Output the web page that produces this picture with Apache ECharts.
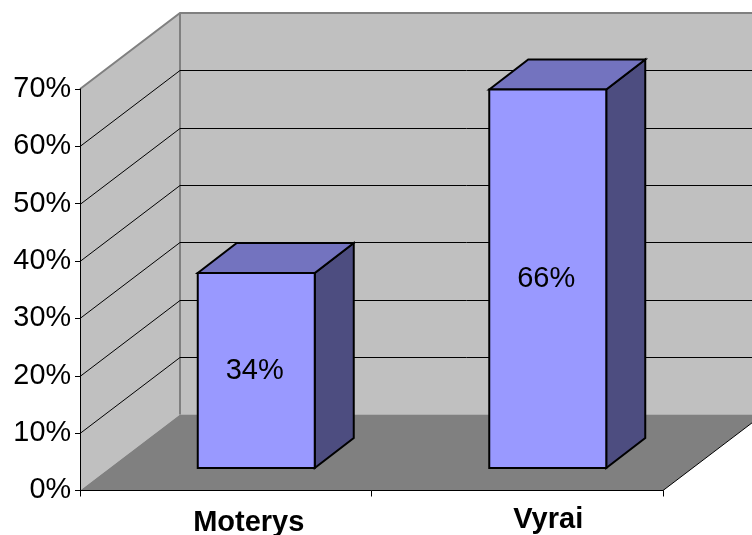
<!DOCTYPE html>
<html>
<head>
<meta charset="utf-8">
<style>
  html, body { margin: 0; padding: 0; background: #fff; }
  #main { width: 752px; height: 535px; }
</style>
<script src="https://cdn.jsdelivr.net/npm/echarts@6/dist/echarts.min.js"></script>
</head>
<body>
<div id="main"></div>
<script>
var categories = ["Moterys", "Vyrai"];
var shareValues = [34, 66];
var gridTicks = [10, 20, 30, 40, 50, 60];
var yMin = 0;
var yMax = 70;
var yStep = 10;

// oblique projection of the box, in pixels
var depthX = 100;
var depthY = -76;
var barOffsetX = 30.5;
var barOffsetY = -22.5;
var barWidth = 117;
var barDepthX = 39;
var barDepthY = -30;

var fontName = '"Liberation Sans", Arial, sans-serif';

function poly(points, fill, stroke, lineWidth) {
  return {
    type: "polygon",
    shape: { points: points },
    style: { fill: fill, stroke: stroke || null, lineWidth: lineWidth || 0, lineJoin: "miter" }
  };
}

function line(points, color, lineWidth) {
  return {
    type: "polyline",
    shape: { points: points },
    style: { fill: null, stroke: color, lineWidth: lineWidth, lineJoin: "miter" }
  };
}

function renderWalls(params, api) {
  var box = params.coordSys;
  var x0 = box.x;
  var x1 = box.x + box.width;
  var bottom = api.coord([0, yMin])[1];
  var top = api.coord([0, yMax])[1];
  var bx0 = x0 + depthX;
  var bx1 = x1 + depthX;
  return {
    type: "group",
    children: [
      poly([[x0, top], [bx0, top + depthY], [bx0, bottom + depthY], [x0, bottom]], "#c0c0c0"),
      poly([[bx0, top + depthY], [bx1, top + depthY], [bx1, bottom + depthY], [bx0, bottom + depthY]], "#c0c0c0"),
      poly([[x0, bottom], [x1, bottom], [bx1, bottom + depthY], [bx0, bottom + depthY]], "#808080"),
      line([[x0, top], [bx0, top + depthY], [bx1, top + depthY]], "#808080", 2),
      line([[bx0, top + depthY], [bx0, bottom + depthY]], "#808080", 2),
      line([[x1, bottom], [bx1, bottom + depthY]], "#000", 1)
    ]
  };
}

function renderGridLine(params, api) {
  var box = params.coordSys;
  var y = Math.round(api.coord([0, api.value(1)])[1]) + 0.5;
  return line([
    [box.x, y],
    [box.x + depthX, y + depthY],
    [box.x + box.width + depthX, y + depthY]
  ], "#000", 1);
}

function renderBar(params, api) {
  var center = api.coord([api.value(0), api.value(1)])[0] + barOffsetX;
  var left = center - barWidth / 2;
  var right = center + barWidth / 2;
  var top = api.coord([0, api.value(1)])[1] + barOffsetY;
  var bottom = api.coord([0, yMin])[1] + barOffsetY;
  var dx = barDepthX;
  var dy = barDepthY;
  return {
    type: "group",
    children: [
      poly([[right, top], [right + dx, top + dy], [right + dx, bottom + dy], [right, bottom]], "#4d4d80", "#000", 2),
      poly([[left, top], [left + dx, top + dy], [right + dx, top + dy], [right, top]], "#7373bf", "#000", 2),
      poly([[left, top], [right, top], [right, bottom], [left, bottom]], "#9999ff", "#000", 2),
      {
        type: "text",
        style: {
          x: center - 1.5,
          y: (top + bottom) / 2 + 0.5,
          text: api.value(1) + "%",
          fill: "#000",
          font: "29px " + fontName,
          align: "center",
          verticalAlign: "middle"
        }
      }
    ]
  };
}

var chart = echarts.init(document.getElementById("main"));
chart.setOption({
  animation: false,
  backgroundColor: "#fff",
  grid: { left: 80, right: 89, top: 89, bottom: 44.5, outerBoundsMode: "none" },
  xAxis: {
    type: "category",
    data: categories,
    z: 5,
    axisLine: { lineStyle: { color: "#000", width: 1 } },
    axisTick: { show: true, length: 6, alignWithLabel: false, lineStyle: { color: "#000" } },
    axisLabel: {
      margin: 15,
      color: "#000",
      formatter: function (value, index) {
        return "{c" + index + "|" + value + "}";
      },
      rich: {
        c0: { fontFamily: fontName, fontWeight: "bold", fontSize: 29, color: "#000", padding: [3, 0, 0, 46] },
        c1: { fontFamily: fontName, fontWeight: "bold", fontSize: 29, color: "#000", padding: [0, 0, 0, 62] }
      }
    }
  },
  yAxis: {
    type: "value",
    min: yMin,
    max: yMax,
    interval: yStep,
    z: 5,
    axisLine: { show: true, lineStyle: { color: "#000", width: 1 } },
    axisTick: { show: true, length: 5, lineStyle: { color: "#000" } },
    splitLine: { show: false },
    axisLabel: {
      formatter: "{value}%",
      margin: 9,
      padding: [5, 0, 0, 0],
      color: "#000",
      fontFamily: fontName,
      fontSize: 28.8
    }
  },
  series: [
    {
      type: "custom",
      clip: false,
      silent: true,
      renderItem: renderWalls,
      data: [[0, yMin]]
    },
    {
      type: "custom",
      clip: false,
      silent: true,
      renderItem: renderGridLine,
      encode: { x: 0, y: 1 },
      data: gridTicks.map(function (t) { return [0, t]; })
    },
    {
      type: "custom",
      clip: false,
      renderItem: renderBar,
      encode: { x: 0, y: 1 },
      data: shareValues.map(function (v, i) { return [i, v]; })
    }
  ]
});
window.addEventListener("resize", function () {
  chart.resize();
});
</script>
</body>
</html>
